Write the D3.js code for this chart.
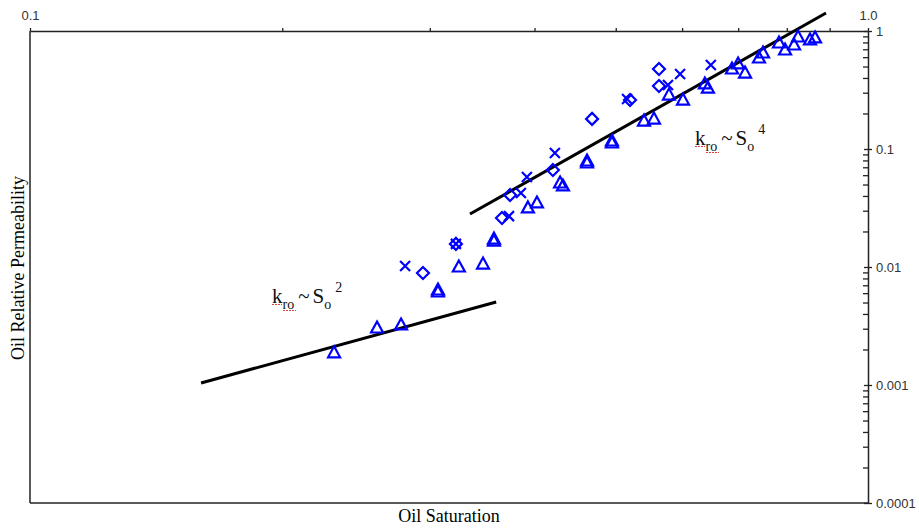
<!DOCTYPE html>
<html>
<head>
<meta charset="utf-8">
<script src="https://cdn.jsdelivr.net/npm/d3@7"></script>
<style>
  body { margin: 0; background: #fff; }
</style>
</head>
<body>
<div></div>
<script>
var width = 919;
var height = 529;
var plotLeft = 30;
var plotRight = 868;
var plotTop = 31;
var plotBottom = 503;

// triangles (two overlapping entries where the marker looks bold)
var triSo  = [0.2306, 0.2595, 0.2772, 0.3068, 0.3068, 0.3249, 0.3472, 0.3578, 0.3578, 0.3928,
              0.4027, 0.4291, 0.4325, 0.4621, 0.4621, 0.4948, 0.4948, 0.5404, 0.5554, 0.5788,
              0.6015, 0.6388, 0.6441, 0.6882, 0.6998, 0.7133, 0.7412, 0.7495, 0.7831, 0.7962,
              0.8161, 0.8251, 0.8527, 0.8646];
var triKro = [0.00191, 0.00310, 0.00329, 0.00626, 0.00651, 0.0102, 0.0108, 0.0169, 0.0176, 0.0323,
              0.0356, 0.0525, 0.0496, 0.0776, 0.0807, 0.1146, 0.1192, 0.176, 0.183, 0.292,
              0.265, 0.363, 0.335, 0.486, 0.536, 0.449, 0.602, 0.664, 0.807, 0.704,
              0.776, 0.907, 0.856, 0.890];

var diaSo  = [0.2944, 0.3223, 0.3658, 0.3740, 0.4207, 0.4685, 0.5200, 0.5631, 0.5631];
var diaKro = [0.00890, 0.0157, 0.0260, 0.0408, 0.0664, 0.180, 0.260, 0.476, 0.342];

var crossSo  = [0.2803, 0.3223, 0.3729, 0.3853, 0.3917, 0.4230, 0.5158, 0.5772, 0.5967, 0.6493];
var crossKro = [0.0102, 0.0157, 0.0270, 0.0424, 0.0579, 0.0925, 0.265, 0.349, 0.432, 0.515];

// power-law guide lines
var fit2So = [0.16, 0.36];
var fit2Kro = [0.00104, 0.00505];
var fit4So = [0.335, 0.891];
var fit4Kro = [0.0281, 1.42];

var topTicks = [0.1, 0.2, 0.3, 0.4, 0.5, 0.6, 0.7, 0.8, 0.9, 1];
var topLabels = ["0.1", "", "", "", "", "", "", "", "", "1.0"];
var rightTicks = [0.0001, 0.001, 0.01, 0.1, 1];
var rightLabels = ["0.0001", "0.001", "0.01", "0.1", "1"];

var svg = d3.select("div")
  .append("svg")
  .attr("width", width)
  .attr("height", height);

var x = d3.scaleLog().domain([0.1, 1]).range([plotLeft, plotRight]);
var y = d3.scaleLog().domain([0.0001, 1]).range([plotBottom, plotTop]);

var axisColor = "#222";

// left and bottom frame
svg.append("line")
  .attr("x1", plotLeft).attr("x2", plotLeft)
  .attr("y1", plotTop).attr("y2", plotBottom)
  .attr("stroke", axisColor).attr("stroke-width", 1.5);
svg.append("line")
  .attr("x1", plotLeft).attr("x2", plotRight)
  .attr("y1", plotBottom).attr("y2", plotBottom)
  .attr("stroke", axisColor).attr("stroke-width", 1.5);

// top axis
var gTop = svg.append("g")
  .attr("transform", "translate(0," + plotTop + ")")
  .call(d3.axisTop(x)
    .tickValues(topTicks)
    .tickSize(3)
    .tickSizeOuter(0)
    .tickPadding(8)
    .tickFormat(function (d, i) { return topLabels[i]; }));

// right axis, major ticks cross the line
var gRight = svg.append("g")
  .attr("transform", "translate(" + plotRight + ",0)")
  .call(d3.axisRight(y)
    .tickValues(rightTicks)
    .tickSize(4)
    .tickSizeOuter(0)
    .tickPadding(4)
    .tickFormat(function (d, i) { return rightLabels[i]; }));
gRight.selectAll(".tick line").attr("x1", -4);

// minor ticks pointing inward
var minorTicks = [];
rightTicks.slice(0, 4).forEach(function (dec) {
  for (var k = 2; k <= 9; k++) minorTicks.push(dec * k);
});
var gMinor = svg.append("g")
  .attr("transform", "translate(" + plotRight + ",0)")
  .call(d3.axisRight(y).tickValues(minorTicks).tickSize(-5).tickFormat(""));
gMinor.select(".domain").remove();

[gTop, gRight, gMinor].forEach(function (g) {
  g.select(".domain").attr("stroke", axisColor).attr("stroke-width", 1.5);
  g.selectAll(".tick line").attr("stroke", axisColor).attr("stroke-width", 1.3);
  g.selectAll(".tick text")
    .attr("fill", "#333")
    .style("font-family", "'Liberation Sans', Arial, sans-serif")
    .style("font-size", "13px");
});

// axis titles
svg.append("text")
  .attr("x", 449).attr("y", 522)
  .attr("text-anchor", "middle")
  .style("font-family", "'Liberation Serif', 'Times New Roman', serif")
  .style("font-size", "18px")
  .text("Oil Saturation");

svg.append("text")
  .attr("transform", "translate(24,268) rotate(-90)")
  .attr("text-anchor", "middle")
  .style("font-family", "'Liberation Serif', 'Times New Roman', serif")
  .style("font-size", "18px")
  .text("Oil Relative Permeability");

// guide lines
var line = d3.line()
  .x(function (d) { return x(d[0]); })
  .y(function (d) { return y(d[1]); });

[[fit2So, fit2Kro], [fit4So, fit4Kro]].forEach(function (f) {
  svg.append("path")
    .attr("d", line(d3.zip(f[0], f[1])))
    .attr("fill", "none")
    .attr("stroke", "#000")
    .attr("stroke-width", 3);
});

// markers
var blue = "#0000ff";

svg.selectAll(".tri")
  .data(d3.zip(triSo, triKro))
  .enter()
  .append("path")
  .attr("class", "tri")
  .attr("d", "M0,-5.5L6,5.5L-6,5.5Z")
  .attr("transform", function (d) { return "translate(" + x(d[0]) + "," + y(d[1]) + ")"; })
  .attr("fill", "none")
  .attr("stroke", blue)
  .attr("stroke-width", 2.2)
  .attr("stroke-linejoin", "miter");

svg.selectAll(".dia")
  .data(d3.zip(diaSo, diaKro))
  .enter()
  .append("path")
  .attr("class", "dia")
  .attr("d", "M0,-6L6,0L0,6L-6,0Z")
  .attr("transform", function (d) { return "translate(" + x(d[0]) + "," + y(d[1]) + ")"; })
  .attr("fill", "none")
  .attr("stroke", blue)
  .attr("stroke-width", 2.2);

svg.selectAll(".cross")
  .data(d3.zip(crossSo, crossKro))
  .enter()
  .append("path")
  .attr("class", "cross")
  .attr("d", "M-5,-5L5,5M5,-5L-5,5")
  .attr("transform", function (d) { return "translate(" + x(d[0]) + "," + y(d[1]) + ")"; })
  .attr("fill", "none")
  .attr("stroke", blue)
  .attr("stroke-width", 2.2);

// annotations
function addLabel(xk, yb, power) {
  var t = svg.append("text")
    .attr("x", xk).attr("y", yb)
    .style("font-family", "'Liberation Serif', 'Times New Roman', serif")
    .style("font-size", "21px")
    .attr("fill", "#111");
  t.append("tspan").text("k");
  t.append("tspan").style("font-size", "14px").attr("dy", 6).text("ro");
  t.append("tspan").attr("dy", -6).attr("dx", 4).text("~");
  t.append("tspan").attr("dx", 3).text("S");
  t.append("tspan").style("font-size", "14px").attr("dy", 6).text("o");
  t.append("tspan").style("font-size", "14px").attr("dy", -17).attr("dx", 4).text(power);

  // spell-check squiggle under "kro"
  svg.append("line")
    .attr("x1", xk).attr("x2", xk + 10)
    .attr("y1", yb + 1.5).attr("y2", yb + 1.5)
    .attr("stroke", "#e04040").attr("stroke-width", 1)
    .attr("stroke-dasharray", "2,1");
  svg.append("line")
    .attr("x1", xk + 11).attr("x2", xk + 24)
    .attr("y1", yb + 7.5).attr("y2", yb + 7.5)
    .attr("stroke", "#e04040").attr("stroke-width", 1)
    .attr("stroke-dasharray", "2,1");
}

addLabel(272, 303, "2");
addLabel(695, 145, "4");
</script>
</body>
</html>
